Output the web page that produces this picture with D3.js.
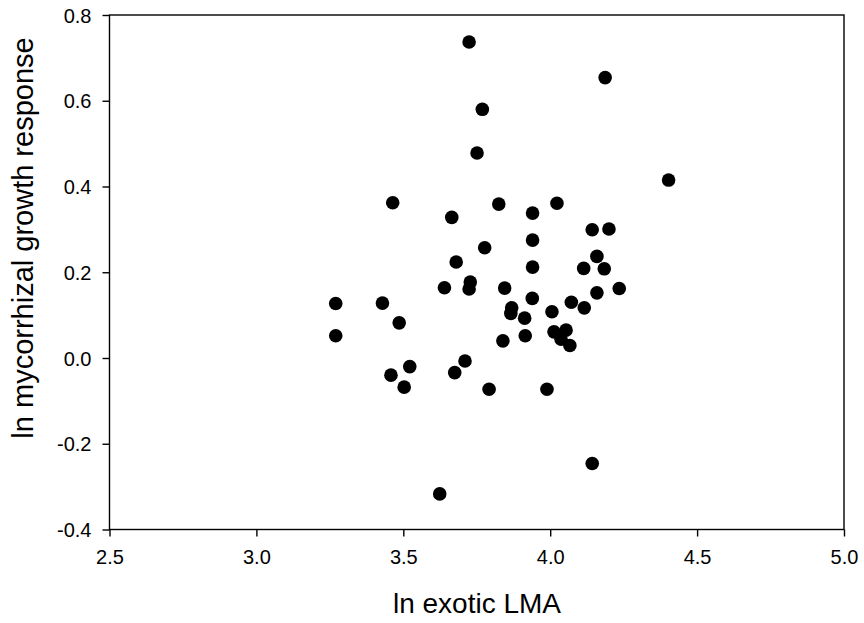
<!DOCTYPE html>
<html>
<head>
<meta charset="utf-8">
<script src="https://cdn.jsdelivr.net/npm/d3@7"></script>
<style>
  html, body { margin: 0; padding: 0; background: #fff; }
  svg { display: block; }
  text { font-family: "Liberation Sans", Arial, sans-serif; fill: #000; }
</style>
</head>
<body>
<svg id="chart" width="864" height="623"></svg>
<script>
// ---- data ----
const lnLMA = [
  3.724, 4.187, 3.769, 3.751, 4.403, 3.464, 3.665, 3.825, 3.940, 4.023,
  4.143, 4.200, 3.777, 3.940, 3.680, 4.159, 4.114, 4.184, 3.940, 3.640,
  3.728, 3.724, 3.845, 4.159, 4.235, 3.270, 3.429, 3.939, 3.869, 3.866,
  4.072, 4.116, 4.006, 3.913, 3.486, 4.013, 4.054, 4.037, 4.067, 3.915,
  3.270, 3.839, 3.710, 3.522, 3.675, 3.458, 3.503, 3.792, 3.989, 4.143,
  3.624
];
const lnMGR = [
  0.737, 0.654, 0.580, 0.478, 0.415, 0.362, 0.328, 0.359, 0.338, 0.361,
  0.299, 0.301, 0.257, 0.275, 0.224, 0.237, 0.209, 0.208, 0.212, 0.164,
  0.177, 0.161, 0.163, 0.152, 0.162, 0.127, 0.128, 0.139, 0.117, 0.104,
  0.130, 0.117, 0.108, 0.093, 0.082, 0.061, 0.065, 0.044, 0.029, 0.052,
  0.052, 0.040, -0.007, -0.020, -0.034, -0.040, -0.068, -0.073, -0.073, -0.246,
  -0.317
];
const xTicks = [2.5, 3.0, 3.5, 4.0, 4.5, 5.0];
const yTicks = [-0.4, -0.2, 0.0, 0.2, 0.4, 0.6, 0.8];
const xLabel = "ln exotic LMA";
const yLabel = "ln mycorrhizal growth response";

// ---- layout ----
const W = 864, H = 623;
const m = { left: 109.5, top: 15, right: 20, bottom: 93.5 };
const iw = W - m.left - m.right, ih = H - m.top - m.bottom;

const svg = d3.select("#chart");
const g = svg.append("g").attr("transform", `translate(${m.left},${m.top})`);

const x = d3.scaleLinear().domain([2.5, 5.0]).range([0, iw]);
const y = d3.scaleLinear().domain([-0.4, 0.8]).range([ih, 0]);

const fmt = d => d3.format(".1f")(d).replace("\u2212", "-");

// frame
g.append("rect")
  .attr("x", 0).attr("y", 0).attr("width", iw).attr("height", ih)
  .attr("fill", "none").attr("stroke", "#000").attr("stroke-width", 1.4);

const xAxis = g.append("g").attr("transform", `translate(0,${ih})`)
  .call(d3.axisBottom(x).tickValues(xTicks).tickFormat(fmt)
    .tickSize(7).tickSizeOuter(0).tickPadding(13));
const yAxis = g.append("g")
  .call(d3.axisLeft(y).tickValues(yTicks).tickFormat(fmt)
    .tickSize(7).tickSizeOuter(0).tickPadding(11));

[xAxis, yAxis].forEach(a => {
  a.attr("font-size", null).attr("font-family", null);
  a.select(".domain").remove();
  a.selectAll(".tick line").attr("stroke", "#000").attr("stroke-width", 1.4);
  a.selectAll(".tick text")
    .style("font-family", "'Liberation Sans', Arial, sans-serif")
    .style("font-size", "20px").attr("fill", "#000");
});
yAxis.selectAll(".tick text").attr("dy", "0.35em");

// points
g.append("g").selectAll("circle")
  .data(lnLMA.map((v, i) => [v, lnMGR[i]]))
  .join("circle")
  .attr("cx", d => x(d[0]))
  .attr("cy", d => y(d[1]))
  .attr("r", 6.8)
  .attr("fill", "#000");

// axis titles
svg.append("text")
  .attr("x", 477).attr("y", 613)
  .attr("text-anchor", "middle")
  .style("font-size", "28px")
  .text(xLabel);

svg.append("text")
  .attr("transform", `translate(33,238) rotate(-90)`)
  .attr("text-anchor", "middle")
  .style("font-size", "29px")
  .text(yLabel);
</script>
</body>
</html>
